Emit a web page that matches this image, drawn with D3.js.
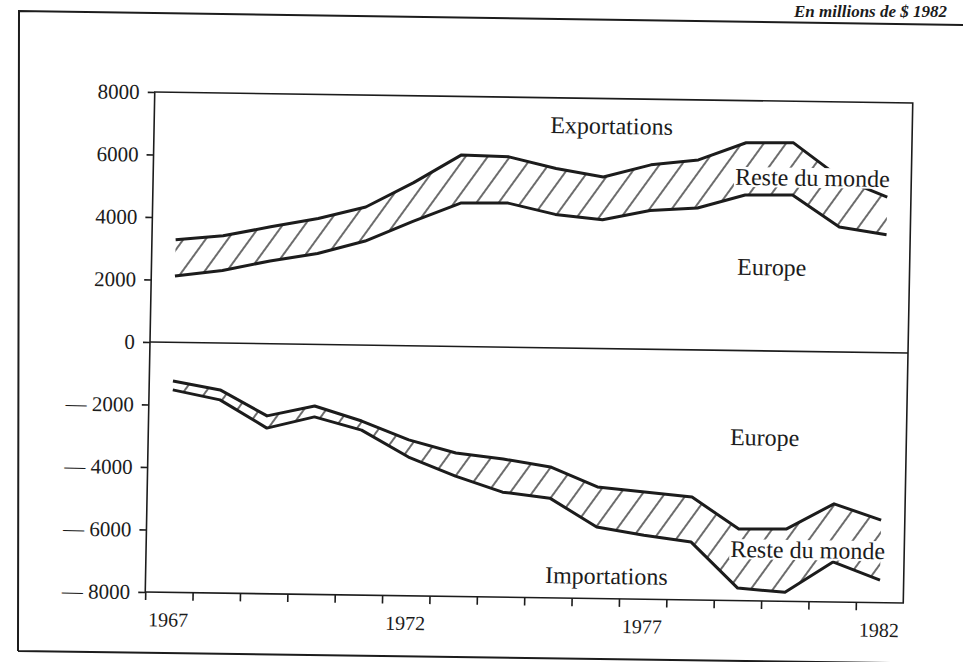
<!DOCTYPE html>
<html>
<head>
<meta charset="utf-8">
<script src="https://cdn.jsdelivr.net/npm/d3@7"></script>
<style>
  body { margin: 0; background: #fff; }
  text { font-family: "Liberation Serif", "DejaVu Serif", serif; fill: #1c1c1c; }
</style>
</head>
<body>
<div id="chart"></div>
<script>
// Values, in millions of 1982 dollars
var years = [1967, 1968, 1969, 1970, 1971, 1972, 1973, 1974, 1975, 1976, 1977, 1978, 1979, 1980, 1981, 1982];
var exportEurope = [2120, 2320, 2650, 2910, 3330, 3980, 4590, 4610, 4270, 4120, 4440, 4540, 4980, 5000, 4000, 3770];
var exportTotal = [3280, 3430, 3740, 4030, 4420, 5220, 6130, 6090, 5740, 5490, 5900, 6080, 6650, 6670, 5570, 4980];
var importEurope = [-1240, -1500, -2310, -1970, -2430, -3010, -3410, -3580, -3810, -4430, -4570, -4710, -5710, -5690, -4860, -5360];
var importTotal = [-1520, -1820, -2700, -2320, -2720, -3560, -4150, -4640, -4810, -5710, -5950, -6150, -7600, -7710, -6720, -7280];

var yTicks = [-8000, -6000, -4000, -2000, 0, 2000, 4000, 6000, 8000];
var xTicks = [1967, 1968, 1969, 1970, 1971, 1972, 1973, 1974, 1975, 1976, 1977, 1978, 1979, 1980, 1981, 1982];
var xLabels = [1967, 1972, 1977, 1982];

var svgWidth = 963;
var svgHeight = 662;

var margin = { top: 92, right: 55, bottom: 70, left: 150 };
var width = 758;
var height = 500;

var ink = "#1c1c1c";

var svg = d3.select("#chart")
  .append("svg")
  .attr("width", svgWidth)
  .attr("height", svgHeight);

svg.append("rect")
  .attr("width", svgWidth)
  .attr("height", svgHeight)
  .attr("fill", "#fff");

// hatch used for the "reste du monde" bands
var defs = svg.append("defs");
defs.append("pattern")
  .attr("id", "hatch")
  .attr("patternUnits", "userSpaceOnUse")
  .attr("width", 18)
  .attr("height", 18)
  .attr("patternTransform", "rotate(35)")
  .append("line")
  .attr("x1", 2).attr("y1", -2)
  .attr("x2", 2).attr("y2", 20)
  .attr("stroke", ink)
  .attr("stroke-width", 1.3);

svg.append("text")
  .attr("x", 794)
  .attr("y", 17)
  .attr("font-size", 17)
  .attr("font-style", "italic")
  .attr("font-weight", "bold")
  .text("En millions de $ 1982");

// outer frame of the page
svg.append("path")
  .attr("d", "M18,651 L19,11 L963,25 M18,651 L963,664")
  .attr("fill", "none")
  .attr("stroke", ink)
  .attr("stroke-width", 2);

// the page is scanned slightly askew
var page = svg.append("g")
  .attr("transform", `translate(${margin.left}, 342) matrix(1, 0.0145, -0.019, 1, 0, 0) translate(${-margin.left}, -342)`);

var chartGroup = page.append("g")
  .attr("transform", `translate(${margin.left}, ${margin.top})`);

var x = d3.scaleLinear().domain([1967, 1983]).range([0, width]);
var y = d3.scaleLinear().domain([-8000, 8000]).range([height, 0]);

// points sit in the middle of each year
var xp = d => x(d.year + 0.5);

var exportRows = years.map((yr, i) => ({ year: yr, lo: exportEurope[i], hi: exportTotal[i] }));
var importRows = years.map((yr, i) => ({ year: yr, lo: importTotal[i], hi: importEurope[i] }));

var band = d3.area()
  .x(xp)
  .y0(d => y(d.lo))
  .y1(d => y(d.hi));

[exportRows, importRows].forEach(function(rows) {
  chartGroup.append("path")
    .datum(rows)
    .attr("d", band)
    .attr("fill", "url(#hatch)");
});

// box and zero line
chartGroup.append("rect")
  .attr("width", width)
  .attr("height", height)
  .attr("fill", "none")
  .attr("stroke", ink)
  .attr("stroke-width", 1.6);

chartGroup.append("line")
  .attr("x1", 0).attr("x2", width)
  .attr("y1", y(0)).attr("y2", y(0))
  .attr("stroke", ink)
  .attr("stroke-width", 1.6);

// axes
var leftAxis = d3.axisLeft(y)
  .tickValues(yTicks)
  .tickSize(7)
  .tickPadding(8)
  .tickFormat(d => d < 0 ? "\u2014 " + Math.abs(d) : d);

var yAxis = chartGroup.append("g").call(leftAxis);
yAxis.select(".domain").remove();
yAxis.selectAll("line").attr("stroke", ink).attr("stroke-width", 1.6);
yAxis.selectAll("text")
  .attr("font-family", "Liberation Serif")
  .attr("font-size", 21)
  .attr("fill", ink);

var bottomAxis = d3.axisBottom(x)
  .tickValues(xTicks)
  .tickSize(8)
  .tickPadding(12)
  .tickFormat(d => xLabels.indexOf(d) >= 0 ? d : "");

var xAxis = chartGroup.append("g")
  .attr("transform", `translate(0, ${height})`)
  .call(bottomAxis);
xAxis.select(".domain").remove();
xAxis.selectAll("line").attr("stroke", ink).attr("stroke-width", 1.6);
xAxis.selectAll("text")
  .attr("font-family", "Liberation Serif")
  .attr("font-size", 20)
  .attr("text-anchor", "start")
  .attr("dx", 3)
  .attr("fill", ink);

// the four series
var lineLo = d3.line().x(xp).y(d => y(d.lo));
var lineHi = d3.line().x(xp).y(d => y(d.hi));

[exportRows, importRows].forEach(function(rows) {
  [lineLo, lineHi].forEach(function(fn) {
    chartGroup.append("path")
      .datum(rows)
      .attr("d", fn)
      .attr("fill", "none")
      .attr("stroke", ink)
      .attr("stroke-width", 3)
      .attr("stroke-linejoin", "round");
  });
});

// annotations
var notes = [
  { t: "Exportations", yr: 1975.36, v: 6870, box: false },
  { t: "Reste du monde", yr: 1979.28, v: 5300, box: true },
  { t: "Europe", yr: 1979.36, v: 2420, box: false },
  { t: "Europe", yr: 1979.28, v: -3030, box: false },
  { t: "Reste du monde", yr: 1979.33, v: -6610, box: true },
  { t: "Importations", yr: 1975.43, v: -7530, box: false }
];

notes.forEach(function(n) {
  var g = chartGroup.append("g");
  var label = g.append("text")
    .attr("x", x(n.yr))
    .attr("y", y(n.v))
    .attr("font-size", 24)
    .text(n.t);
  if (n.box) {
    var bb = label.node().getBBox();
    g.insert("rect", "text")
      .attr("x", bb.x - 1)
      .attr("y", bb.y + 3)
      .attr("width", bb.width + 2)
      .attr("height", bb.height - 6)
      .attr("fill", "#fff");
  }
});
</script>
</body>
</html>
